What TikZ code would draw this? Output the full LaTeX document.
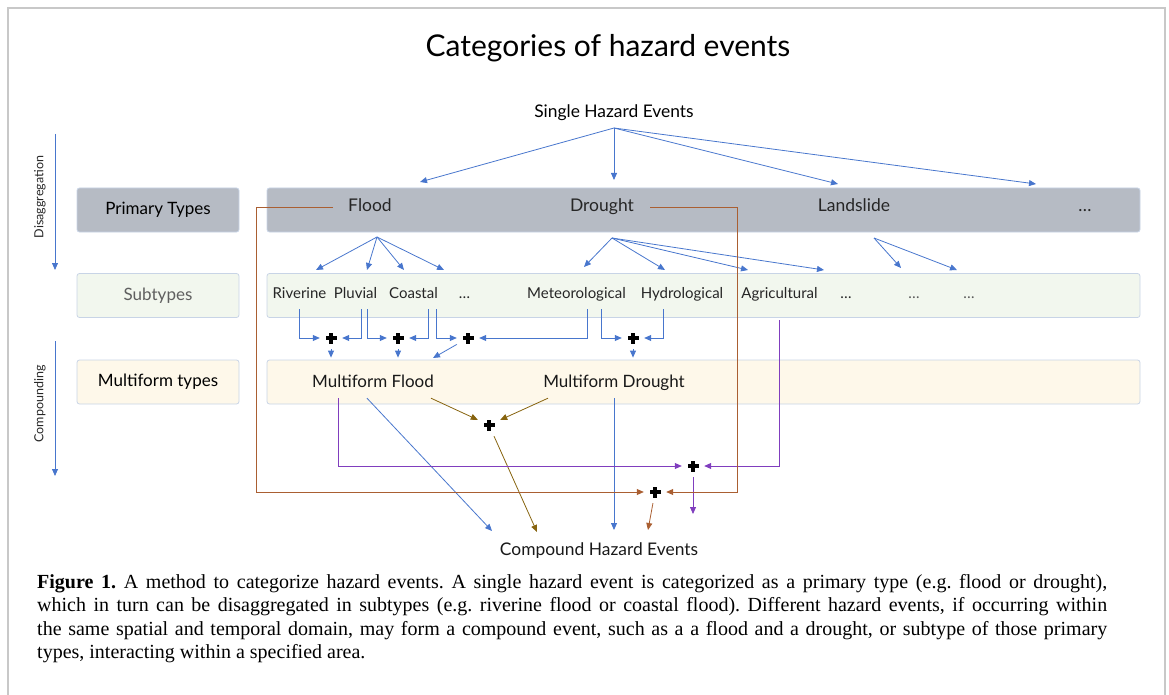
\documentclass[tikz,border=0pt]{standalone}
\usepackage{fontspec}
\setmainfont{Liberation Serif}
\newfontfamily\diagfont{Lato}
\usetikzlibrary{arrows.meta}

\definecolor{linkblue}{RGB}{72,118,205}
\definecolor{primfill}{RGB}{182,187,196}
\definecolor{subfill}{RGB}{242,247,238}
\definecolor{multfill}{RGB}{254,248,234}
\definecolor{boxedge}{RGB}{200,212,230}
\definecolor{linkpurple}{RGB}{128,62,190}
\definecolor{linkolive}{RGB}{135,100,15}
\definecolor{linkbrown}{RGB}{170,95,50}
\definecolor{framegray}{RGB}{200,200,200}
\definecolor{labelgray}{RGB}{95,95,95}

\newcommand{\dsize}[1]{\diagfont\fontsize{#1}{#1}\selectfont}

\begin{document}
\frenchspacing
\begin{tikzpicture}[x=1pt,y=-1pt,
	box/.style={draw=boxedge, line width=0.8pt, rounded corners=2.5pt, inner sep=0pt, minimum height=44pt},
	lbox/.style={box, minimum width=162pt, font=\dsize{17}},
	rowbox/.style={box, minimum width=873pt},
	primtext/.style={font=\dsize{17.5}, text=black!85, text height=12.5pt, text depth=4pt, inner xsep=1pt, inner ysep=5pt},
	subtext/.style={font=\dsize{15}, text=black!85, text height=11pt, text depth=3.5pt, inner xsep=1pt, inner ysep=6.75pt},
	multext/.style={font=\dsize{17}, text=black!90, text height=12.5pt, text depth=4pt, inner xsep=1pt, inner ysep=6.75pt},
	sidetext/.style={rotate=90, font=\dsize{12.5}, text=black!85},
	link/.style={line width=0.8pt, -{Triangle[length=7pt,width=6pt]}},
	conn/.style={link, draw=linkblue},
	plusnode/.style={minimum size=22pt, inner sep=0pt,
		path picture={
			\fill (path picture bounding box.center) ++(-5.5pt,-1.6pt) rectangle ++(11pt,3.2pt);
			\fill (path picture bounding box.center) ++(-1.6pt,-5.5pt) rectangle ++(3.2pt,11pt);
		}},
	capline/.style={anchor=base west, inner sep=0pt, font=\fontsize{20}{23}\selectfont}
]
	\useasboundingbox (0,0) rectangle (1169,695);
	\draw[framegray, line width=2pt] (8,695) -- (8,8) -- (1165,8) -- (1165,695);

	\node[anchor=base, font=\dsize{30}] (title) at (608,57) {Categories of hazard events};
	\node[anchor=base, font=\dsize{17.4}] (single) at (614,118) {Single Hazard Events};

	\node[lbox, fill=primfill] (primlbl) at (158,210) {Primary Types};
	\node[lbox, fill=subfill, text=labelgray] (sublbl) at (158,295.5) {Subtypes};
	\node[lbox, fill=multfill] (multlbl) at (158,382) {Multiform types};

	\node[rowbox, fill=primfill] (primrow) at (703.5,210) {};
	\node[rowbox, fill=subfill] (subrow) at (703.5,295.5) {};
	\node[rowbox, fill=multfill] (multrow) at (703.5,382) {};

	\node[sidetext] (disagg) at (40,197) {Disaggregation};
	\node[sidetext] (compounding) at (40,404) {Compounding};
	\coordinate (dis-a) at (55,134);
	\coordinate (dis-b) at (55,270);
	\coordinate (com-a) at (55,341);
	\coordinate (com-b) at (55,476);
	\draw[conn] (dis-a) -- (dis-b);
	\draw[conn] (com-a) -- (com-b);

	\node[primtext] (flood) at (370,207) {Flood};
	\node[primtext] (drought) at (602,207) {Drought};
	\node[primtext] (landslide) at (854,207) {Landslide};
	\node[primtext] (pdots) at (1085,207) {\dots};

	\foreach \n/\x/\t in {riv/299.5/Riverine, plu/355.5/Pluvial, coa/413.5/Coastal, sdots1/464.5/\dots,
		met/576.5/Meteorological, hyd/682/Hydrological, agr/779.5/Agricultural, sdots2/846/\dots}
		\node[subtext] (\n) at (\x,295) {\t};
	\foreach \n/\x in {sdots3/914, sdots4/969}
		\node[subtext, text=black!65] (\n) at (\x,295) {\dots};

	\node[multext] (mflood) at (373,383) {Multiform Flood};
	\node[multext] (mdrought) at (614,383) {Multiform Drought};
	\node[font=\dsize{17.4}, text=black!90] (compound) at (599,551) {Compound Hazard Events};

	\foreach \n/\x/\y in {p1/331/338, p2/398/338, p3/468/338, p4/633/338, p5/693/466, p6/489/425, p7/655/492}
		\node[plusnode] (\n) at (\x,\y) {};

	\coordinate (sh) at (614,128);
	\foreach \tx/\ty [count=\i] in {420/182, 614/180, 838/184, 1036/184} {
		\coordinate (sh-\i) at (\tx,\ty);
		\draw[conn] (sh) -- (sh-\i);
	}
	\coordinate (fl) at (377,237);
	\foreach \tx/\ty [count=\i] in {316/270, 367/270, 404/270, 444/270} {
		\coordinate (fl-\i) at (\tx,\ty);
		\draw[conn] (fl) -- (fl-\i);
	}
	\coordinate (dr) at (612,238);
	\foreach \tx/\ty [count=\i] in {584/267, 665/270, 748/270, 824/270} {
		\coordinate (dr-\i) at (\tx,\ty);
		\draw[conn] (dr) -- (dr-\i);
	}
	\coordinate (ls) at (874,238);
	\foreach \tx/\ty [count=\i] in {901/268, 957/270} {
		\coordinate (ls-\i) at (\tx,\ty);
		\draw[conn] (ls) -- (ls-\i);
	}

	\draw[conn] (riv.south) |- (p1);
	\draw[conn] ([xshift=5.5pt]plu.south) |- (p1);
	\draw[conn] ([xshift=11.5pt]plu.south) |- (p2);
	\draw[conn] ([xshift=14.5pt]coa.south) |- (p2);
	\draw[conn] ([xshift=22.5pt]coa.south) |- (p3);
	\draw[conn] ([xshift=10.5pt]met.south) |- (p3);
	\draw[conn] ([xshift=24.5pt]met.south) |- (p4);
	\draw[conn] ([xshift=-19pt]hyd.south) |- (p4);

	\coordinate (p3-end) at (433,358);
	\draw[conn, shorten >=2pt] (p1) -- (p1 |- multrow.north);
	\draw[conn, shorten >=2pt] (p2) -- (p2 |- multrow.north);
	\draw[conn] (p3) -- (p3-end);
	\draw[conn, shorten >=2pt] (p4) -- (p4 |- multrow.north);

	\coordinate (cmp-a) at (492,531);
	\coordinate (cmp-b) at (537,532);
	\coordinate (cmp-c) at (614,530);
	\coordinate (cmp-d) at (648,530);
	\coordinate (cmp-e) at (693,514);
	\coordinate (brn-l) at (256,492);
	\coordinate (brn-r) at (737,492);

	\draw[conn] ([xshift=-6pt]mflood.south) -- (cmp-a);
	\draw[conn] (mdrought.south) -- (cmp-c);
	\draw[link, linkolive] ([xshift=58pt]mflood.south) -- (p6);
	\draw[link, linkolive] ([xshift=-66pt]mdrought.south) -- (p6);
	\draw[link, linkolive] (p6) -- (cmp-b);
	\draw[link, linkpurple] ([xshift=-35pt]mflood.south) |- (p5);
	\draw[link, linkpurple] ([yshift=-11pt]agr.south) |- (p5);
	\draw[link, linkpurple] (p5) -- (cmp-e);
	\draw[link, linkbrown] ([xshift=-14pt]flood.west) -| (brn-l) -- (p7);
	\draw[link, linkbrown] ([xshift=15pt]drought.east) -| (brn-r) -- (p7);
	\draw[link, linkbrown] (p7) -- (cmp-d);

	\node[capline] (cap1) at (37,588) {\makebox[1070pt][s]{\textbf{Figure 1.} A method to categorize hazard events. A single hazard event is categorized as a primary type (e.g. flood or drought),}};
	\node[capline] (cap2) at (37,611) {\makebox[1070pt][s]{which in turn can be disaggregated in subtypes (e.g. riverine flood or coastal flood). Different hazard events, if occurring within}};
	\node[capline] (cap3) at (37,635) {\makebox[1070pt][s]{the same spatial and temporal domain, may form a compound event, such as a a flood and a drought, or subtype of those primary}};
	\node[capline] (cap4) at (37,658) {types, interacting within a specified area.};
\end{tikzpicture}
\end{document}
